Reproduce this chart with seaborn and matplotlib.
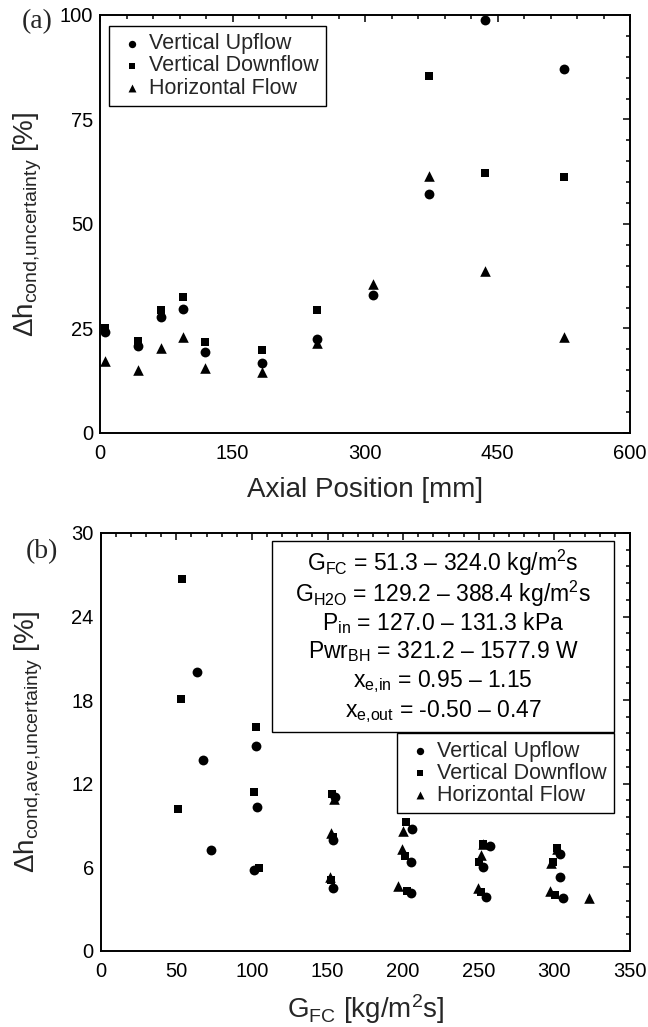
import numpy as np
import pandas as pd
import matplotlib
matplotlib.use("Agg")
import matplotlib.pyplot as plt
from matplotlib.ticker import MultipleLocator
from matplotlib.patches import Rectangle
import seaborn as sns

# ---------------- data: panel (a) ----------------
pos_up = [6, 43, 69, 94, 119, 183, 246, 309, 373, 436, 525]
unc_up = [24.2, 20.8, 27.7, 29.7, 19.3, 16.7, 22.5, 33.0, 57.2, 98.8, 87.1]
pos_down = [6, 43, 69, 94, 119, 183, 246, 373, 436, 525]
unc_down = [25.2, 22.0, 29.4, 32.6, 21.8, 19.9, 29.4, 85.5, 62.3, 61.3]
pos_horiz = [6, 43, 69, 94, 119, 183, 246, 309, 373, 436, 525]
unc_horiz = [17.2, 15.1, 20.4, 22.9, 15.6, 14.7, 21.5, 35.6, 61.5, 38.8, 23.0]

# ---------------- data: panel (b) ----------------
G_up = [63.4, 67.4, 73.1, 102.8, 103.2, 101.5, 154.8, 153.6, 153.6, 206.1, 205.0, 205.4,
        257.1, 252.7, 254.5, 303.8, 303.4, 305.6]
ave_up = [20.0, 13.7, 7.2, 14.7, 10.3, 5.8, 11.05, 7.94, 4.52, 8.73, 6.39, 4.16,
          7.51, 5.98, 3.83, 6.91, 5.31, 3.76]
G_down = [54.0, 52.8, 50.9, 103.0, 101.5, 105.0, 153.2, 153.5, 152.0, 201.7, 201.0, 202.5,
          252.5, 250.0, 251.6, 301.5, 299.0, 300.7]
ave_down = [26.7, 18.06, 10.17, 16.1, 11.38, 5.95, 11.29, 8.2, 5.1, 9.23, 6.79, 4.28,
            7.65, 6.39, 4.23, 7.4, 6.35, 4.0]
G_horiz = [154.0, 152.1, 151.4, 199.9, 199.2, 196.6, 252.7, 251.6, 249.4, 301.6, 297.9, 296.8, 323.2]
ave_horiz = [10.93, 8.42, 5.31, 8.61, 7.34, 4.64, 7.63, 6.86, 4.47, 7.34, 6.27, 4.28, 3.76]

series_names = ["Vertical Upflow", "Vertical Downflow", "Horizontal Flow"]
info_lines = [
    r"G$_{\mathrm{FC}}$ = 51.3 – 324.0 kg/m$^{\mathrm{2}}$s",
    r"G$_{\mathrm{H2O}}$ = 129.2 – 388.4 kg/m$^{\mathrm{2}}$s",
    r"P$_{\mathrm{in}}$ = 127.0 – 131.3 kPa",
    r"Pwr$_{\mathrm{BH}}$ = 321.2 – 1577.9 W",
    r"x$_{\mathrm{e{,}in}}$ = 0.95 – 1.15",
    r"x$_{\mathrm{e{,}out}}$ = -0.50 – 0.47",
]

# ---------------- style ----------------
sns.set_style("white")
plt.rcParams["font.family"] = ["Liberation Sans", "DejaVu Sans"]
plt.rcParams["mathtext.fontset"] = "custom"
plt.rcParams["mathtext.rm"] = "Liberation Sans"
plt.rcParams["mathtext.it"] = "Liberation Sans:italic"
plt.rcParams["mathtext.bf"] = "Liberation Sans:bold"
plt.rcParams["axes.linewidth"] = 1.4

markers = {"Vertical Upflow": ("o", 50), "Vertical Downflow": ("s", 34), "Horizontal Flow": ("^", 58)}

fig = plt.figure(figsize=(6.48, 10.27), dpi=100)
W, H = 648.0, 1027.0
ax1 = fig.add_axes([100 / W, 1 - 433 / H, 530 / W, 418 / H])
ax2 = fig.add_axes([100.7 / W, 1 - 950.7 / H, 529.3 / W, 417.7 / H])


def draw(ax, xs_list, ys_list):
    for name, xs, ys in zip(series_names, xs_list, ys_list):
        df = pd.DataFrame({"x": xs, "y": ys})
        m, s = markers[name]
        sns.scatterplot(data=df, x="x", y="y", ax=ax, marker=m, s=s, color="black",
                        linewidth=0, label=name, clip_on=False, zorder=3)


draw(ax1, [pos_up, pos_down, pos_horiz], [unc_up, unc_down, unc_horiz])
draw(ax2, [G_up, G_down, G_horiz], [ave_up, ave_down, ave_horiz])

for ax in (ax1, ax2):
    for sp in ax.spines.values():
        sp.set_color("black")
        sp.set_linewidth(1.4)
    ax.tick_params(which="both", direction="in", top=True, right=True, colors="black",
                   labelsize=14.5, width=1.1)
    ax.tick_params(which="major", length=5.3)
    ax.tick_params(which="minor", length=2.6)
    ax.tick_params(axis="x", pad=8)
    ax.tick_params(axis="y", pad=5)

ax1.set_xlim(0, 600)
ax1.set_ylim(0, 100)
ax1.xaxis.set_major_locator(MultipleLocator(150))
ax1.xaxis.set_minor_locator(MultipleLocator(30))
ax1.yaxis.set_major_locator(MultipleLocator(25))
ax1.yaxis.set_minor_locator(MultipleLocator(5))

ax2.set_xlim(0, 350)
ax2.set_ylim(0, 30)
ax2.xaxis.set_major_locator(MultipleLocator(50))
ax2.xaxis.set_minor_locator(MultipleLocator(10))
ax2.yaxis.set_major_locator(MultipleLocator(6))
ax2.yaxis.set_minor_locator(MultipleLocator(1.2))

ax1.set_xlabel("Axial Position [mm]", fontsize=20, labelpad=10)
ax1.set_ylabel(r"Δh$_{\mathrm{cond{,}uncertainty}}$ [%]", fontsize=20)
ax1.yaxis.set_label_coords(-0.105, 0.5)
ax2.set_xlabel(r"G$_{\mathrm{FC}}$ [kg/m$^{\mathrm{2}}$s]", fontsize=20, labelpad=8)
ax2.set_ylabel(r"Δh$_{\mathrm{cond{,}ave{,}uncertainty}}$ [%]", fontsize=20)
ax2.yaxis.set_label_coords(-0.105, 0.5)

leg_kw = dict(frameon=True, fancybox=False, edgecolor="black", fontsize=15.5,
              markerscale=0.75, handlelength=1.4, handletextpad=0.1,
              labelspacing=0.05, borderpad=0.35, borderaxespad=0, framealpha=1)
leg1 = ax1.legend(loc="upper left", bbox_to_anchor=(0.017, 0.974), **leg_kw)
leg1.get_frame().set_linewidth(1.0)
leg2 = ax2.legend(loc="upper right", bbox_to_anchor=(0.970, 0.521), **leg_kw)
leg2.get_frame().set_linewidth(1.0)

# info box
ax2.add_patch(Rectangle((0.3236, 0.5243), 0.970 - 0.3236, 0.9816 - 0.5243,
                        transform=ax2.transAxes, fill=False, edgecolor="black",
                        linewidth=1.0, zorder=4))
baselines = [0.910, 0.8355, 0.768, 0.700, 0.6306, 0.5588]
for yb, line in zip(baselines, info_lines):
    ax2.text(0.647, yb, line, transform=ax2.transAxes, ha="center", va="baseline",
             fontsize=16.5, color="black", zorder=5)

fig.text(22 / W, 1 - 28 / H, "(a)", family=["Liberation Serif", "DejaVu Serif"],
         fontsize=20, va="baseline", ha="left")
fig.text(26 / W, 1 - 558 / H, "(b)", family=["Liberation Serif", "DejaVu Serif"],
         fontsize=20, va="baseline", ha="left")

fig.savefig("out.png", dpi=100)
